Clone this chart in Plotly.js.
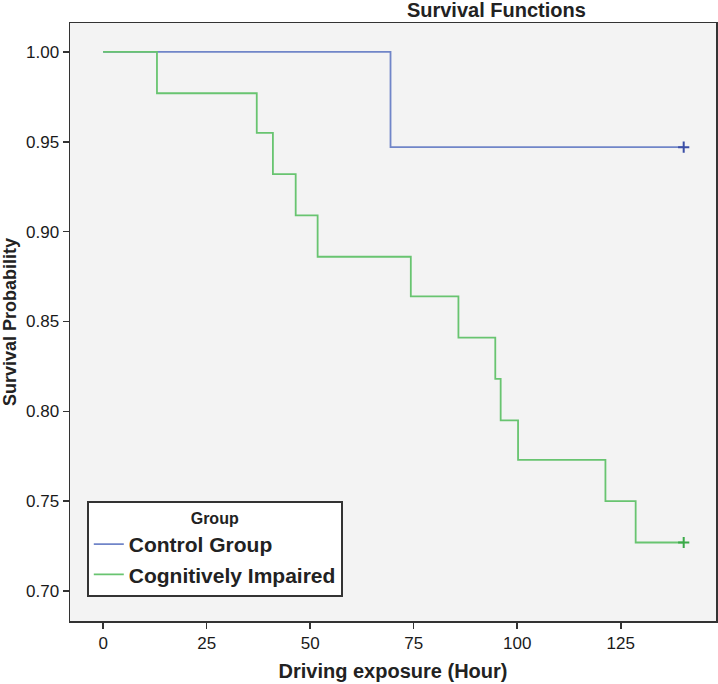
<!DOCTYPE html>
<html>
<head>
<meta charset="utf-8">
<script src="https://cdn.plot.ly/plotly-3.0.1.min.js"></script>
<style>html,body{margin:0;padding:0;background:#fff;}#chart{width:718px;height:684px;}</style>
</head>
<body>
<div id="chart"></div>
<script>
const controlTimes = [0, 69.4, 140.2];
const controlSurv = [1.0, 0.947, 0.947];
const impairedTimes = [0, 13.0, 37.1, 41.0, 46.5, 51.8, 74.3, 85.8, 94.7, 96.0, 100.2, 121.3, 128.6, 140.2];
const impairedSurv = [1.0, 0.977, 0.955, 0.932, 0.909, 0.886, 0.864, 0.841, 0.818, 0.795, 0.773, 0.750, 0.727, 0.727];
const controlCensorTime = [140.2];
const controlCensorSurv = [0.947];
const impairedCensorTime = [140.2];
const impairedCensorSurv = [0.727];
const groupNames = ["Control Group", "Cognitively Impaired"];
const xTicks = [0, 25, 50, 75, 100, 125];
const yTicks = [0.70, 0.75, 0.80, 0.85, 0.90, 0.95, 1.00];

const FONT = "Liberation Sans, Arial, sans-serif";
const blue = "#7085c8", blueDark = "#3a4ea6";
const green = "#68c470", greenDark = "#3aaa48";

const traces = [
  {x: controlTimes, y: controlSurv, mode: "lines", line: {shape: "hv", color: blue, width: 1.8}, name: groupNames[0]},
  {x: impairedTimes, y: impairedSurv, mode: "lines", line: {shape: "hv", color: green, width: 1.8}, name: groupNames[1]},
  {x: controlCensorTime, y: controlCensorSurv, mode: "markers", marker: {symbol: "cross-thin", size: 8, line: {color: blueDark, width: 2}}, showlegend: false, hoverinfo: "skip"},
  {x: impairedCensorTime, y: impairedCensorSurv, mode: "markers", marker: {symbol: "cross-thin", size: 8, line: {color: greenDark, width: 2}}, showlegend: false, hoverinfo: "skip"}
];

const layout = {
  width: 718, height: 684,
  margin: {l: 70, r: 2, t: 23, b: 63},
  paper_bgcolor: "#ffffff",
  plot_bgcolor: "#f3f3f3",
  font: {family: FONT, color: "#222"},
  title: {text: "<b>Survival Functions</b>", x: 0.66, xanchor: "center", xref: "paper", y: 0.986, yref: "container", yanchor: "middle", font: {size: 20, family: FONT, color: "#222"}},
  xaxis: {
    range: [-8, 148], tickvals: xTicks, ticktext: xTicks.map(String),
    showgrid: false, zeroline: false, showline: true, mirror: true, linecolor: "#333", linewidth: 1.5,
    ticks: "outside", ticklen: 6, tickcolor: "#333", tickwidth: 1.5,
    tickfont: {size: 17, family: FONT, color: "#1a1a1a"},
    title: {text: "<b>Driving exposure (Hour)</b>", font: {size: 20, family: FONT, color: "#222"}, standoff: 12}
  },
  yaxis: {
    range: [0.6833, 1.0161], tickvals: yTicks, ticktext: yTicks.map(v => v.toFixed(2)),
    showgrid: false, zeroline: false, showline: true, mirror: true, linecolor: "#333", linewidth: 1.5,
    ticks: "outside", ticklen: 6, tickcolor: "#333", tickwidth: 1.5,
    tickfont: {size: 17, family: FONT, color: "#1a1a1a"},
    title: {text: "<b>Survival Probability</b>", font: {size: 18, family: FONT, color: "#222"}, standoff: 6}
  },
  legend: {
    x: 0.026, y: 0.04, xanchor: "left", yanchor: "bottom",
    bgcolor: "#ffffff", bordercolor: "#333", borderwidth: 2,
    font: {size: 21, family: FONT, color: "#222", weight: "bold"},
    title: {text: "<b>Group</b>", side: "top center", font: {size: 16, family: FONT, color: "#222"}},
    tracegroupgap: 0
  },
  showlegend: true
};

Plotly.newPlot("chart", traces, layout, {displayModeBar: false, staticPlot: true});
</script>
</body>
</html>
